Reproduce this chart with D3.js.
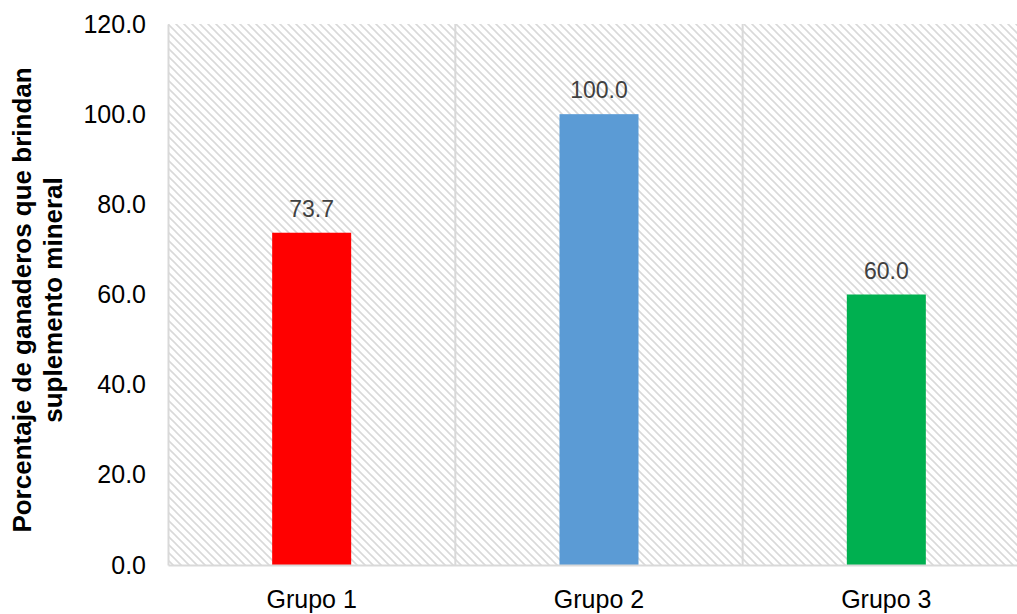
<!DOCTYPE html>
<html>
<head>
<meta charset="utf-8">
<script src="https://cdn.jsdelivr.net/npm/d3@7"></script>
<style>
    body { margin: 0; background: #fff; }
    svg { font-family: Arial, 'Liberation Sans', sans-serif; }
</style>
</head>
<body>
<div id="chart"></div>
<script>
var categories = ['Grupo 1', 'Grupo 2', 'Grupo 3']
var values = [73.7, 100.0, 60.0]
var barColors = ['#ff0000', '#5b9bd5', '#00b050']
var yTicks = [0, 20, 40, 60, 80, 100, 120]
var yTitle = ['Porcentaje de ganaderos que brindan', 'suplemento mineral']

var width = 1017
var height = 614
var margin = { top: 24, right: -13, bottom: 49, left: 168 }

var svg = d3.select('#chart').append('svg')
    .attr('width', width)
    .attr('height', height)

// hatched plot background
var defs = svg.append('defs')
var pat = defs.append('pattern')
    .attr('id', 'hatch')
    .attr('patternUnits', 'userSpaceOnUse')
    .attr('width', 8)
    .attr('height', 8)
pat.append('path')
    .attr('d', 'M0,0L8,8M-2,6L2,10M6,-2L10,2')
    .attr('stroke', '#d9d9d9')
    .attr('stroke-width', 1.6)

var x = d3.scaleBand()
    .domain(categories)
    .range([margin.left, width - margin.right])
    .paddingInner(0)
    .paddingOuter(0)

var y = d3.scaleLinear()
    .domain([0, 120])
    .range([height - margin.bottom, margin.top])

svg.append('rect')
    .attr('x', margin.left)
    .attr('y', margin.top)
    .attr('width', width - margin.right - margin.left)
    .attr('height', y(0) - y(120))
    .attr('fill', 'url(#hatch)')

// vertical gridlines between categories
svg.append('g')
    .selectAll('line')
    .data(categories.slice(1))
    .enter().append('line')
    .attr('x1', function(d) { return x(d) })
    .attr('x2', function(d) { return x(d) })
    .attr('y1', y(120))
    .attr('y2', y(0))
    .attr('stroke', '#d9d9d9')
    .attr('stroke-width', 2)

// bars
var barW = 79
svg.append('g')
    .selectAll('rect')
    .data(values)
    .enter().append('rect')
    .attr('x', function(d, i) { return x(categories[i]) + x.bandwidth() / 2 - barW / 2 })
    .attr('y', function(d) { return y(d) })
    .attr('width', barW)
    .attr('height', function(d) { return y(0) - y(d) })
    .attr('fill', function(d, i) { return barColors[i] })

// value labels
svg.append('g')
    .selectAll('text')
    .data(values)
    .enter().append('text')
    .attr('x', function(d, i) { return x(categories[i]) + x.bandwidth() / 2 })
    .attr('y', function(d) { return y(d) - 16 })
    .attr('text-anchor', 'middle')
    .attr('font-size', 23)
    .attr('fill', '#404040')
    .text(function(d) { return d.toFixed(1) })

// axes
var yAxis = svg.append('g')
    .attr('transform', 'translate(' + margin.left + ',0)')
    .call(d3.axisLeft(y).tickValues(yTicks).tickSize(0).tickPadding(22)
        .tickFormat(function(d) { return d.toFixed(1) }))
yAxis.select('.domain').attr('stroke', '#d9d9d9').attr('stroke-width', 2)
yAxis.selectAll('text').attr('font-size', 25).attr('fill', '#000')
    .attr('font-family', 'Arial, Liberation Sans, sans-serif')

var xAxis = svg.append('g')
    .attr('transform', 'translate(0,' + y(0) + ')')
    .call(d3.axisBottom(x).tickSize(0).tickPadding(25))
xAxis.select('.domain').attr('stroke', '#d9d9d9').attr('stroke-width', 2)
xAxis.selectAll('text').attr('font-size', 25).attr('fill', '#000')
    .attr('font-family', 'Arial, Liberation Sans, sans-serif')

// y title
svg.append('text')
    .attr('transform', 'translate(31,300) rotate(-90)')
    .attr('text-anchor', 'middle')
    .attr('font-size', 26)
    .attr('font-weight', 'bold')
    .attr('fill', '#000')
    .selectAll('tspan')
    .data(yTitle)
    .enter().append('tspan')
    .attr('x', 0)
    .attr('dy', function(d, i) { return i === 0 ? 0 : 31 })
    .text(function(d) { return d })
</script>
</body>
</html>
